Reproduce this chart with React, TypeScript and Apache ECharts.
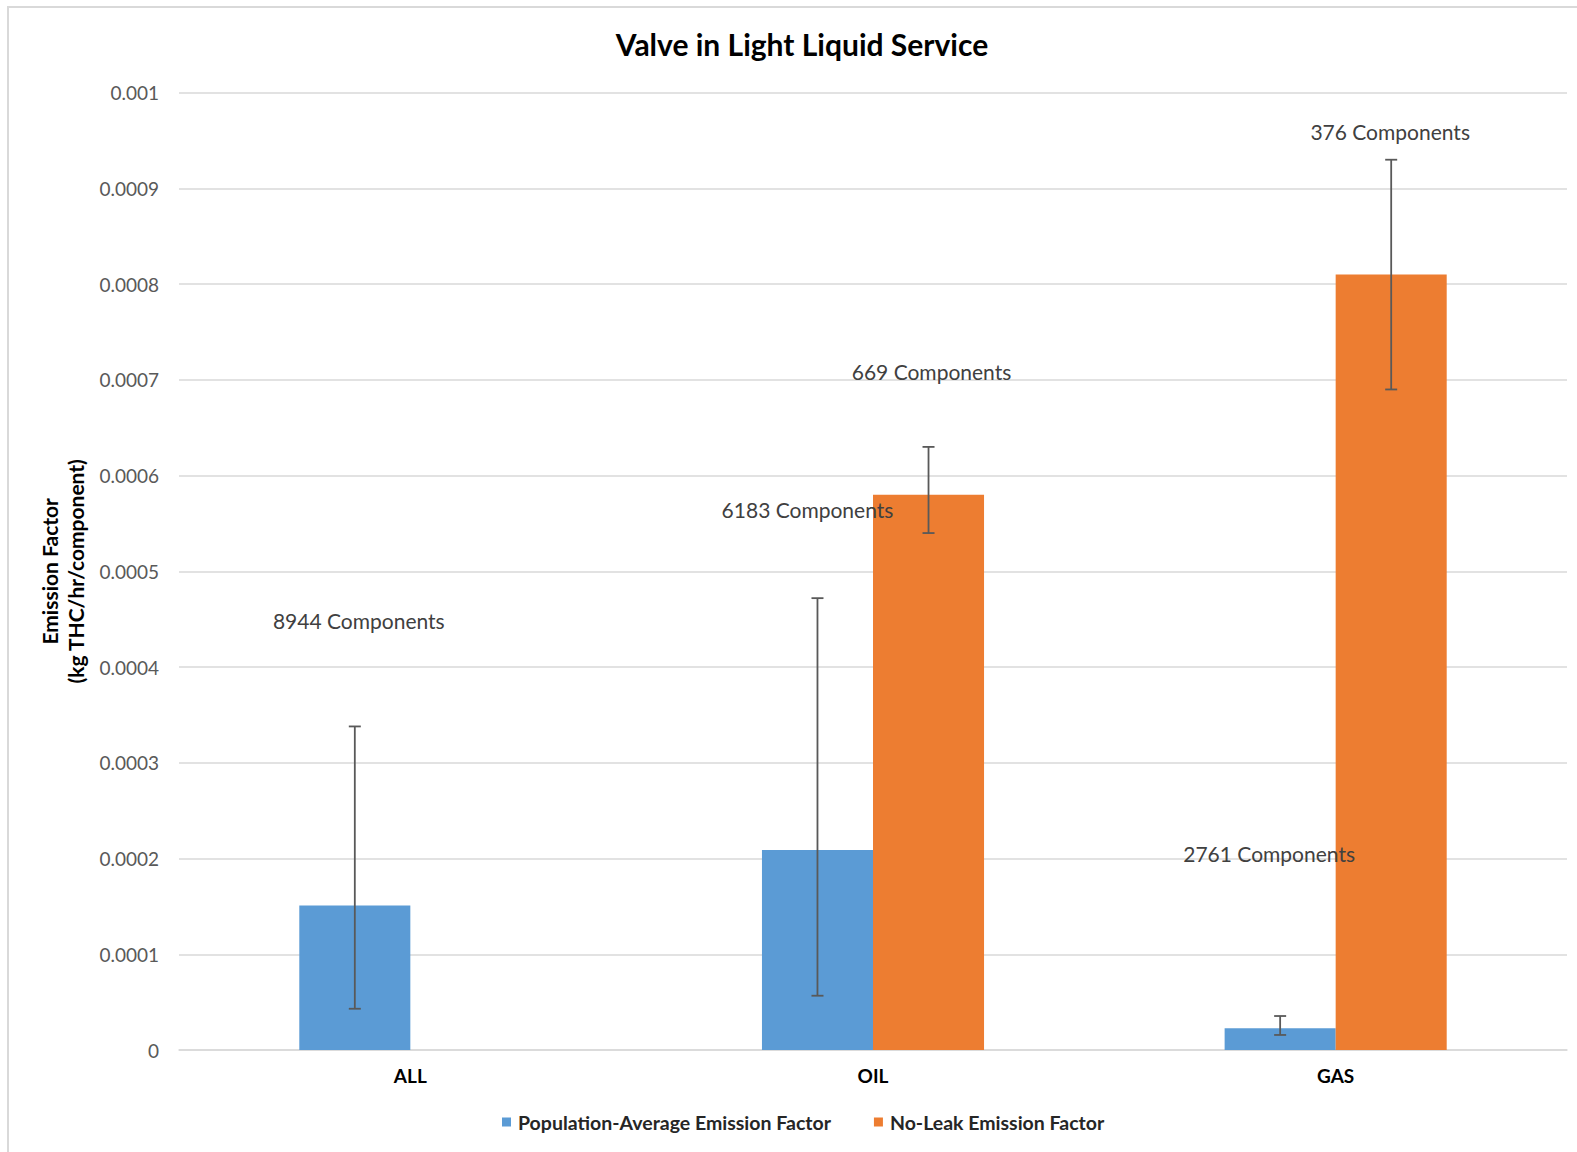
import React, { useEffect, useRef } from "react";
import * as echarts from "echarts";

const categories = ["ALL", "OIL", "GAS"];
const seriesNames = ["Population-Average Emission Factor", "No-Leak Emission Factor"];
const popAvg = [0.000151, 0.000209, 0.0000227];
const noLeak: (number | null)[] = [null, 0.00058, 0.00081];
// error bars: [categoryIndex, low, high, seriesIndex]
const errorBars = [
  [0, 0.0000431, 0.000338, 0],
  [1, 0.0000567, 0.000472, 0],
  [1, 0.00054, 0.00063, 1],
  [2, 0.0000157, 0.0000355, 0],
  [2, 0.00069, 0.00093, 1],
];
// component-count labels: [categoryIndex, yValue, seriesIndex]
const countLabelPos = [
  [0, 0.000449, 0],
  [1, 0.000565, 0],
  [1, 0.000709, 1],
  [2, 0.000959, 1],
  [2, 0.000205, 0],
];
const countLabelText = ["8944 Components", "6183 Components", "669 Components", "376 Components", "2761 Components"];
// horizontal nudges of the count labels (style, px)
const countLabelDx = [4, -10, 3, -1, -11];

const FONT = "Lato, 'Open Sans', sans-serif";
const BLUE = "#5B9BD5";
const ORANGE = "#ED7D31";
const CAT_GAP = 0.52;

function barCenter(api: any, catIdx: number, sIdx: number) {
  const c = api.coord([catIdx, 0])[0];
  const band = api.size([1, 0])[0];
  const bw = (band * (1 - CAT_GAP)) / 2;
  return c + (sIdx === 0 ? -bw / 2 : bw / 2);
}

export default function App() {
  const ref = useRef<HTMLDivElement>(null);
  useEffect(() => {
    document.body.style.margin = "0";
    const chart = echarts.init(ref.current!, null, { renderer: "svg" });
    chart.setOption({
      animation: false,
      backgroundColor: "#ffffff",
      title: {
        text: "Valve in Light Liquid Service",
        left: 797,
        top: 24,
        textAlign: "center",
        textStyle: { fontFamily: FONT, fontSize: 30, fontWeight: "bold", color: "#000" },
      },
      graphic: [
        {
          type: "rect",
          shape: { x: 8, y: 7, width: 1700, height: 1300 },
          style: { fill: "none", stroke: "#d9d9d9", lineWidth: 2 },
          silent: true,
        },
      ],
      legend: {
        data: seriesNames,
        bottom: 15,
        left: 497,
        itemWidth: 9,
        itemHeight: 9,
        itemGap: 43,
        icon: "rect",
        textStyle: { fontFamily: FONT, fontSize: 19.5, fontWeight: "bold", color: "#262626", padding: [0, 0, 0, 2] },
      },
      grid: { left: 179, right: 10, top: 92.7, bottom: 102 },
      xAxis: {
        type: "category",
        data: categories,
        axisTick: { show: false },
        axisLine: { lineStyle: { color: "#d9d9d9", width: 1.5 } },
        axisLabel: { fontFamily: FONT, fontSize: 19, fontWeight: "bold", color: "#000", margin: 16 },
      },
      yAxis: {
        type: "value",
        min: 0,
        max: 0.001,
        interval: 0.0001,
        name: "Emission Factor\n(kg THC/hr/component)",
        nameLocation: "middle",
        nameGap: 86,
        nameRotate: 90,
        nameTextStyle: { fontFamily: FONT, fontSize: 21, fontWeight: "bold", color: "#000", lineHeight: 26 },
        axisLine: { show: false },
        axisTick: { show: false },
        splitLine: { lineStyle: { color: "#d9d9d9", width: 1.5 } },
        axisLabel: {
          fontFamily: FONT,
          fontSize: 19,
          color: "#595959",
          margin: 20,
          formatter: (v: number) => (v === 0 ? "0" : String(parseFloat(v.toFixed(4)))),
        },
      },
      series: [
        {
          name: seriesNames[0],
          type: "bar",
          data: popAvg,
          itemStyle: { color: BLUE },
          barGap: "0%",
          barCategoryGap: "52%",
        },
        {
          name: seriesNames[1],
          type: "bar",
          data: noLeak,
          itemStyle: { color: ORANGE },
          barGap: "0%",
          barCategoryGap: "52%",
        },
        {
          type: "custom",
          name: "errors",
          z: 5,
          data: errorBars,
          renderItem: (params: any, api: any) => {
            const cat = api.value(0);
            const lo = api.coord([cat, api.value(1)])[1];
            const hi = api.coord([cat, api.value(2)])[1];
            const x = barCenter(api, cat, api.value(3));
            const cap = 6;
            const st = { stroke: "#595959", lineWidth: 1.8 };
            return {
              type: "group",
              children: [
                { type: "line", shape: { x1: x, y1: lo, x2: x, y2: hi }, style: st },
                { type: "line", shape: { x1: x - cap, y1: lo, x2: x + cap, y2: lo }, style: st },
                { type: "line", shape: { x1: x - cap, y1: hi, x2: x + cap, y2: hi }, style: st },
              ],
            };
          },
        },
        {
          type: "custom",
          name: "counts",
          z: 6,
          data: countLabelPos,
          renderItem: (params: any, api: any) => {
            const cat = api.value(0);
            const y = api.coord([cat, api.value(1)])[1];
            const x = barCenter(api, cat, api.value(2)) + countLabelDx[params.dataIndex];
            return {
              type: "text",
              x,
              y,
              style: {
                text: countLabelText[params.dataIndex],
                fontFamily: FONT,
                fontSize: 21,
                fill: "#404040",
                align: "center",
                verticalAlign: "middle",
              },
            };
          },
        },
      ],
    });
    return () => chart.dispose();
  }, []);
  return <div ref={ref} style={{ width: 1577, height: 1152 }} />;
}
